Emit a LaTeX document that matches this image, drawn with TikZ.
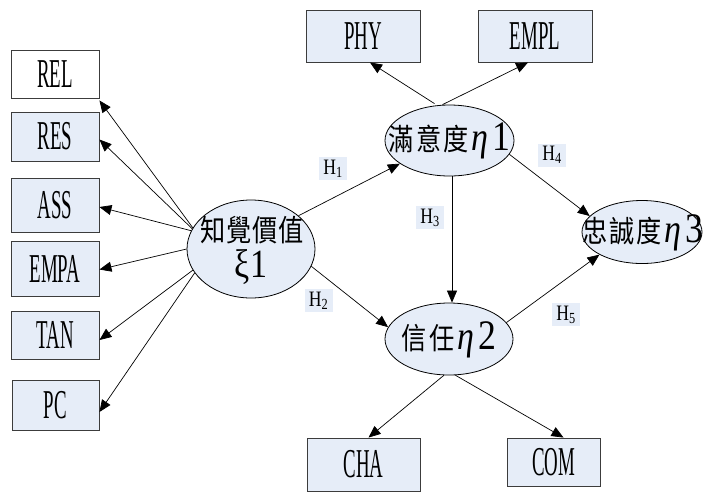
\documentclass[tikz,border=0pt]{standalone}
\usepackage{fontspec}
\setmainfont{Liberation Serif}
\newfontfamily\boxfont{Liberation Serif}[FakeStretch=0.46]
\newfontfamily\cjk{Noto Sans CJK TC}[FakeStretch=0.84]
\newfontfamily\grk{Liberation Serif}[FakeStretch=0.85]
\newfontfamily\hfont{Liberation Serif}[FakeStretch=0.8]
\usetikzlibrary{arrows.meta,shapes.geometric,calc}
\definecolor{fillc}{RGB}{230,237,248}
\definecolor{edgec}{RGB}{60,60,60}
\tikzset{
  ind/.style={draw=edgec, line width=0.9pt, fill=fillc, rectangle, inner sep=0pt,
    font=\boxfont\fontsize{41}{44}\selectfont},
  lat/.style={draw=black, line width=0.8pt, fill=fillc, ellipse, inner sep=0pt},
  hlab/.style={fill=fillc, inner sep=0pt, minimum width=28pt, minimum height=23pt,
    font=\hfont\fontsize{22}{24}\selectfont},
  conn/.style={draw=black, line width=0.7pt, -{Triangle[length=12pt,width=10pt]}},
  lattext/.style={font=\cjk\fontsize{30}{36}\selectfont, align=center, inner sep=0pt},
}
\newcommand{\etaa}{\hspace{3pt}{\grk\fontsize{40}{40}\selectfont\itshape η}}
\newcommand{\dig}[1]{\hspace{4pt}{\grk\fontsize{42}{40}\selectfont #1}}
\begin{document}
\begin{tikzpicture}[x=1pt,y=-1pt]
\useasboundingbox (0,0) rectangle (703,491);
% indicator boxes
\node[ind, fill=white, minimum width=88pt, minimum height=48pt] (rel) at (55,74) {REL};
\node[ind, minimum width=88pt, minimum height=49pt] (res) at (55,136.5) {RES};
\node[ind, minimum width=88pt, minimum height=54pt] (ass) at (55,205) {ASS};
\node[ind, minimum width=88pt, minimum height=55pt] (empa) at (55,268.5) {EMPA};
\node[ind, minimum width=88pt, minimum height=48pt] (tan) at (55,335) {TAN};
\node[ind, minimum width=87pt, minimum height=50pt] (pc) at (55.5,405) {PC};
\node[ind, minimum width=114pt, minimum height=52pt] (phy) at (363,36) {PHY};
\node[ind, minimum width=114pt, minimum height=52pt] (empl) at (535,36) {EMPL};
\node[ind, minimum width=113pt, minimum height=53pt] (cha) at (363.5,464.5) {CHA};
\node[ind, minimum width=93pt, minimum height=48pt] (com) at (553.5,462) {COM};
% latent variables
\node[lat, minimum width=128pt, minimum height=98pt] (xi) at (251,249) {};
\node[lattext] (xit) at (251,250) {\hspace{2pt}知\hspace{1pt}覺\hspace{1pt}價\hspace{1pt}值\\[0pt]{\grk\fontsize{40}{40}\selectfont ξ1}};
\node[lat, minimum width=129pt, minimum height=71pt] (sat) at (449.5,140.5) {};
\node[lattext] (satt) at (449.5,141) {滿\hspace{2pt}意\hspace{2pt}度\etaa\dig{1}};
\node[lat, minimum width=120pt, minimum height=63pt] (loy) at (642,232) {};
\node[lattext] (loyt) at (643,233) {忠\hspace{2pt}誠\hspace{2pt}度\etaa\dig{3}};
\node[lat, minimum width=128pt, minimum height=72pt] (tru) at (449,339) {};
\node[lattext] (trut) at (449,340) {信\hspace{2pt}任\etaa\dig{2}};
% measurement arrows
\draw[conn] (xi.160) -- ([yshift=-2pt]rel.south east);
\draw[conn] (xi.161) -- ([yshift=-3pt]res.east);
\draw[conn] (xi.163) -- ([yshift=-2pt]ass.east);
\draw[conn] (xi.180) -- ([yshift=-1pt]empa.east);
\draw[conn] (xi.200) -- ([yshift=-5pt]tan.east);
\draw[conn] (xi.203) -- ([yshift=-7pt]pc.east);
\draw[conn] ([xshift=-15pt,yshift=1pt]sat.north) -- ([xshift=7pt]phy.south);
\draw[conn] ([xshift=-7pt]sat.north) -- ([xshift=-7pt]empl.south);
\draw[conn] (tru.262) -- ([xshift=5pt]cha.north);
\draw[conn] (tru.280) -- ([xshift=10pt]com.north);
% structural arrows
\draw[conn] (xi.35) -- (sat.205);
\draw[conn] (xi.-16) -- (tru.169);
\draw[conn] ([xshift=2.5pt]sat.south) -- ([xshift=3pt]tru.north);
\draw[conn] (sat.-13) -- (loy.163);
\draw[conn] (tru.16) -- (loy.208);
% hypothesis labels
\node[hlab] (h1) at (333,168.5) {H\textsubscript{1}};
\node[hlab] (h2) at (318.5,300.5) {H\textsubscript{2}};
\node[hlab] (h3) at (430,217.5) {H\textsubscript{3}};
\node[hlab] (h4) at (552,155) {H\textsubscript{4}};
\node[hlab] (h5) at (566,314.5) {H\textsubscript{5}};
\end{tikzpicture}
\end{document}
